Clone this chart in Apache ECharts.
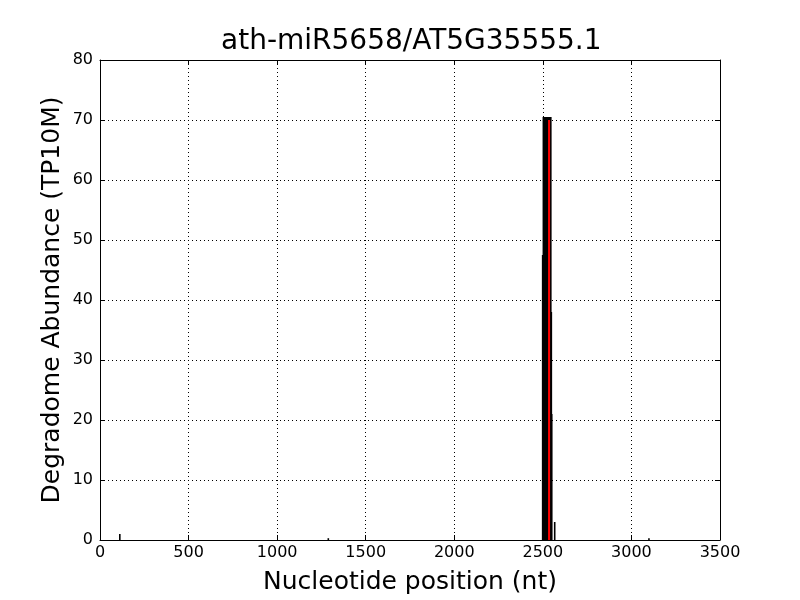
<!DOCTYPE html>
<html><head><meta charset="utf-8">
<script src="https://cdn.jsdelivr.net/npm/echarts@6/dist/echarts.min.js"></script>
<style>html,body{margin:0;padding:0;background:#fff}#c{width:800px;height:600px}</style>
</head><body><div id="c"></div>
<script>
const titleText = 'ath-miR5658/AT5G35555.1';
const xTicks = [0, 500, 1000, 1500, 2000, 2500, 3000, 3500];
const yTicks = [0, 10, 20, 30, 40, 50, 60, 70, 80];
// degradome peaks: position (nt) and abundance (TP10M)
const positions = [113, 1290, 2500, 2504, 2510, 2516, 2522, 2528, 2534, 2540, 2546, 2549, 2551, 2568, 3100];
const abundances = [1, 0.3, 47.5, 70.5, 70.5, 70.5, 70.5, 70.5, 70.5, 70.5, 70.5, 38, 21, 3, 0.3];
// predicted cleavage site
const sitePositions = [2535];
const siteValues = [70];

const chart = echarts.init(document.getElementById('c'));
const font = 'DejaVu Sans';
const baseAxis = {
  type: 'value', min: 0,
  axisLine: {show: true, onZero: false, lineStyle: {color: '#000', width: 1}},
  axisTick: {show: true, inside: true, length: 5, lineStyle: {color: '#000'}},
  splitLine: {show: false}
};
chart.setOption({
  animation: false,
  backgroundColor: '#fff',
  title: {text: titleText, left: 221, top: 28, padding: 0,
    textStyle: {fontFamily: font, fontSize: 28, fontWeight: 'normal', color: '#000'}},
  grid: {left: 100, right: 80, top: 60, bottom: 60},
  xAxis: [
    Object.assign({}, baseAxis, {min: xTicks[0], max: xTicks[xTicks.length - 1], interval: 500, position: 'bottom',
      name: 'Nucleotide position (nt)', nameLocation: 'middle', nameGap: 30,
      nameTextStyle: {fontFamily: font, fontSize: 25, color: '#000'},
      axisLabel: {fontFamily: font, fontSize: 16, color: '#000', margin: 5, formatter: v => String(v)},
      splitLine: {show: true, lineStyle: {color: '#000', type: [1, 3], width: 1}}}),
    Object.assign({}, baseAxis, {min: xTicks[0], max: xTicks[xTicks.length - 1], interval: 500, position: 'top', axisLabel: {show: false}})
  ],
  yAxis: [
    Object.assign({}, baseAxis, {min: yTicks[0], max: yTicks[yTicks.length - 1], interval: 10, position: 'left',
      name: 'Degradome Abundance (TP10M)', nameLocation: 'middle', nameGap: 35, nameMoveOverlap: false,
      nameTextStyle: {fontFamily: font, fontSize: 25, color: '#000'},
      axisLabel: {fontFamily: font, fontSize: 16, color: '#000', margin: 7, formatter: v => String(v)},
      splitLine: {show: true, lineStyle: {color: '#000', type: [1, 3], width: 1}}}),
    Object.assign({}, baseAxis, {min: yTicks[0], max: yTicks[yTicks.length - 1], interval: 10, position: 'right', axisLabel: {show: false}})
  ],
  series: [
    {type: 'bar', xAxisIndex: 0, yAxisIndex: 0, barWidth: 1.6, barGap: '-100%',
      itemStyle: {color: '#000'}, z: 3,
      data: positions.map((p, i) => [p, abundances[i]])},
    {type: 'bar', xAxisIndex: 0, yAxisIndex: 0, barWidth: 2, barGap: '-100%',
      itemStyle: {color: '#ff0000'}, z: 4,
      data: sitePositions.map((p, i) => [p, siteValues[i]])}
  ]
});
</script></body></html>
